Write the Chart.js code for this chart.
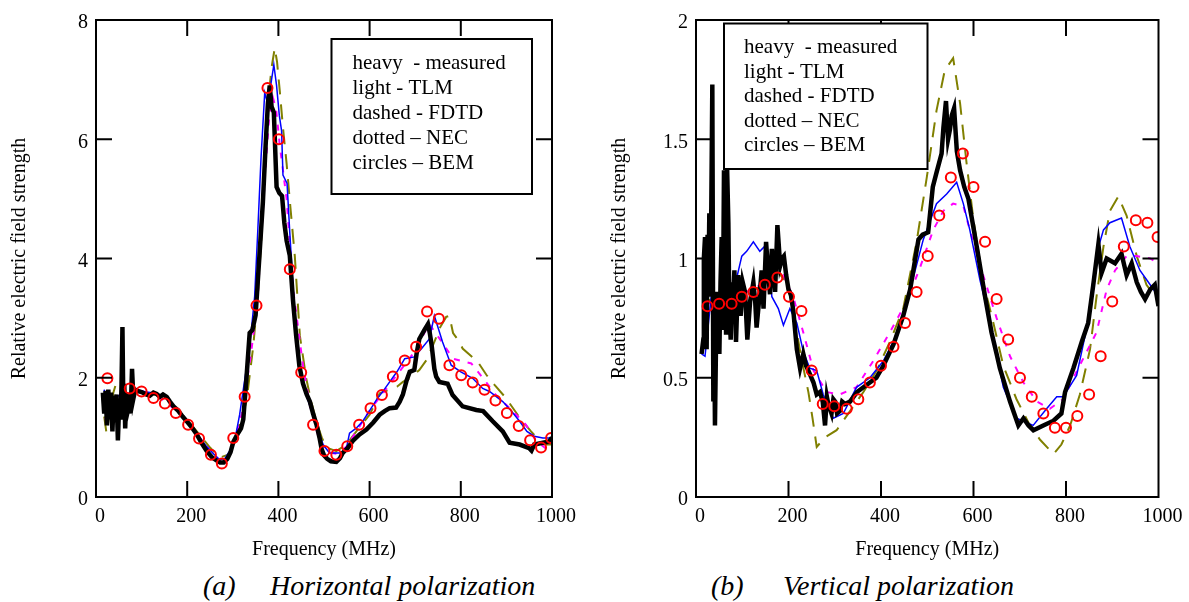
<!DOCTYPE html>
<html>
<head>
<meta charset="utf-8">
<title>Relative electric field strength</title>
<script src="https://cdn.jsdelivr.net/npm/chart.js@4.4.0/dist/chart.umd.min.js"></script>
<style>
  body { margin: 0; background: #fff; width: 1189px; height: 602px; overflow: hidden; position: relative;
         font-family: "Liberation Serif", "Times New Roman", serif; }
  .panel { position: absolute; top: 0; }
  .panel canvas { display: block; }
  .caption { position: absolute; top: 570px; font-style: italic; font-size: 28px; line-height: 32px; white-space: pre; color: #000; }
</style>
</head>
<body>
<div class="panel" style="left:0"><canvas id="chartH" width="580" height="565"></canvas></div>
<div class="panel" style="left:590px"><canvas id="chartV" width="599" height="565"></canvas></div>
<div class="caption" style="left:203px">(a)</div>
<div class="caption" style="left:270px">Horizontal polarization</div>
<div class="caption" style="left:711px">(b)</div>
<div class="caption" style="left:783px">Vertical polarization</div>
<script>
var legendLines = ["heavy  - measured", "light - TLM", "dashed - FDTD", "dotted \u2013 NEC", "circles \u2013 BEM"];
var freqTicks = [0, 200, 400, 600, 800, 1000];
var hTicks = [0, 2, 4, 6, 8];
var vTicks = [0, 0.5, 1, 1.5, 2];

// (a) horizontal polarization, [frequency MHz, field]
var hMeasured = [[15,1.75],[18,1.4],[21,1.78],[24,1.2],[27,1.8],[30,1.3],[33,1.75],[36,1.1],[39,1.7],[42,1.25],[45,1.72],[48,0.95],[51,1.6],[54,1.3],[56,1.9],[58,2.85],[60,1.5],[62,1.9],[64,1.15],[67,1.75],[70,1.45],[73,1.55],[76,1.4],[79,2.15],[82,1.65],[86,1.8],[90,1.78],[100,1.76],[110,1.72],[118,1.7],[126,1.75],[133,1.73],[140,1.68],[147,1.72],[155,1.68],[162,1.6],[170,1.52],[180,1.45],[190,1.35],[200,1.26],[210,1.17],[221,1.05],[232,0.9],[243,0.77],[255,0.66],[265,0.61],[272,0.58],[280,0.58],[288,0.64],[295,0.75],[301,0.92],[310,1.05],[318,1.15],[323,1.3],[330,2.0],[337,2.75],[343,2.8],[350,3.05],[358,4.0],[366,4.95],[372,5.9],[377,6.6],[381,6.9],[385,6.55],[390,6.45],[396,5.2],[402,5.1],[408,5.05],[413,4.6],[418,4.3],[425,4.05],[432,3.3],[439,2.7],[446,2.2],[454,1.9],[462,1.72],[469,1.6],[476,1.4],[484,1.2],[490,1.0],[495,0.8],[500,0.7],[507,0.64],[515,0.6],[527,0.59],[535,0.65],[541,0.74],[552,0.82],[563,0.94],[578,1.05],[593,1.13],[608,1.25],[622,1.38],[633,1.44],[644,1.49],[658,1.5],[666,1.6],[673,1.72],[681,1.95],[688,2.1],[698,2.13],[703,2.4],[709,2.65],[720,2.8],[728,2.9],[732,2.75],[736,2.55],[742,2.15],[746,2.02],[753,1.93],[771,1.9],[782,1.71],[804,1.52],[834,1.46],[849,1.44],[870,1.27],[892,1.1],[907,0.91],[929,0.88],[950,0.82],[955,0.78],[961,0.88],[994,0.93],[1000,1.0]];
var hTLM = [[18,1.8],[22,1.55],[30,1.62],[45,1.68],[60,1.74],[70,1.6],[75,1.52],[82,1.7],[90,1.8],[110,1.76],[133,1.74],[150,1.68],[162,1.6],[185,1.42],[206,1.21],[225,1.02],[242,0.85],[258,0.72],[271,0.63],[282,0.64],[293,0.77],[305,0.98],[315,1.38],[323,1.8],[330,2.16],[340,2.75],[348,3.37],[355,4.5],[362,5.7],[370,6.78],[377,6.59],[383,6.9],[390,7.25],[396,6.9],[402,6.4],[407,6.14],[410,5.4],[419,5.26],[425,4.43],[433,3.4],[443,2.27],[452,1.95],[461,1.71],[475,1.4],[488,1.1],[498,0.88],[512,0.74],[541,0.74],[550,0.85],[556,1.07],[570,1.15],[585,1.27],[600,1.45],[615,1.63],[630,1.78],[644,1.93],[660,2.1],[677,2.32],[698,2.35],[715,2.5],[731,2.65],[742,3.04],[760,2.6],[779,2.21],[800,2.1],[826,1.99],[848,1.82],[863,1.77],[892,1.6],[910,1.45],[929,1.27],[945,1.1],[961,1.02],[980,0.99],[994,0.99],[1000,1.0]];
var hFDTD = [[18,1.35],[23,1.07],[30,1.4],[38,1.75],[45,1.93],[52,1.9],[60,1.96],[66,1.7],[72,1.65],[82,1.82],[100,1.78],[133,1.71],[160,1.6],[185,1.42],[206,1.24],[230,1.02],[250,0.83],[271,0.66],[293,0.72],[308,1.05],[330,1.6],[345,2.54],[355,3.4],[363,4.37],[370,5.5],[377,6.59],[385,7.2],[392,7.53],[397,7.3],[403,6.81],[410,6.2],[418,5.59],[427,4.8],[436,4.04],[447,2.71],[461,1.99],[472,1.6],[483,1.27],[495,1.0],[505,0.83],[527,0.77],[549,0.88],[571,1.1],[600,1.38],[611,1.55],[622,1.74],[644,1.8],[660,1.85],[673,1.93],[690,2.0],[709,2.13],[725,2.3],[742,2.6],[755,2.85],[768,3.02],[775,3.04],[783,2.75],[797,2.6],[804,2.49],[837,2.27],[856,2.05],[874,1.88],[899,1.66],[929,1.33],[954,1.1],[980,0.88],[1000,0.88]];
var hNEC = [[20,1.3],[40,1.6],[60,1.78],[80,1.78],[100,1.78],[125,1.72],[150,1.62],[175,1.45],[200,1.25],[225,1.02],[250,0.78],[270,0.62],[285,0.62],[300,0.85],[320,1.4],[340,2.4],[355,3.4],[370,5.3],[380,6.4],[388,6.7],[395,6.5],[403,5.9],[418,5.0],[432,3.5],[454,2.2],[470,1.5],[490,0.95],[510,0.75],[530,0.72],[550,0.85],[575,1.15],[600,1.45],[625,1.7],[650,1.95],[675,2.2],[700,2.45],[720,2.75],[731,2.9],[753,2.66],[783,2.32],[823,2.24],[849,1.99],[877,1.71],[914,1.44],[943,1.21],[965,0.94],[994,0.77],[1000,0.8]];
var hBEM = [[25,1.99],[74,1.82],[100,1.77],[126,1.66],[151,1.57],[175,1.41],[202,1.21],[226,0.98],[252,0.71],[276,0.56],[301,0.99],[326,1.68],[352,3.21],[376,6.86],[401,6.0],[425,3.82],[450,2.09],[476,1.21],[501,0.77],[527,0.71],[551,0.85],[577,1.21],[602,1.49],[627,1.71],[651,2.02],[677,2.29],[702,2.52],[726,3.11],[752,2.99],[775,2.21],[801,2.04],[826,1.92],[852,1.8],[876,1.62],[901,1.41],[927,1.19],[952,0.95],[976,0.83],[998,0.99]];

// (b) vertical polarization
var vMeasured = [[12,0.6],[15.8,0.66],[17,1.0],[19.5,1.09],[21,0.7],[23,0.62],[25,1.1],[27,0.9],[28.8,1.19],[31.7,0.84],[33,1.2],[35.3,1.73],[37.5,0.4],[39,0.8],[41,0.3],[43,0.6],[44.7,0.86],[47,0.8],[50.5,0.6],[53,0.9],[55.5,1.09],[58,0.7],[60.5,1.37],[63,1.1],[65,0.69],[67,1.4],[70,1.15],[72,0.8],[75,0.66],[78,0.9],[80.7,0.84],[83,0.95],[86.5,0.65],[89,0.8],[91.5,0.93],[94,0.85],[96.5,0.76],[101,0.9],[106,0.86],[111,0.66],[117,0.82],[124,0.9],[128,0.82],[131,0.71],[138.5,0.87],[142,0.95],[146,0.79],[151.5,1.07],[156.5,0.93],[160,0.85],[164,1.04],[168,0.95],[171,0.86],[176,1.14],[182,0.97],[186,1.0],[190,1.01],[195,0.93],[200,0.87],[205,0.85],[210.5,0.78],[218,0.62],[225,0.54],[232,0.6],[238,0.55],[243,0.53],[254,0.48],[261,0.43],[268,0.44],[274,0.4],[279,0.3],[283,0.42],[286,0.39],[293,0.35],[297,0.41],[301,0.4],[305,0.35],[311,0.36],[316,0.4],[322,0.39],[333,0.4],[348,0.44],[362,0.46],[376,0.48],[390,0.5],[405,0.55],[427,0.64],[448,0.76],[463,0.87],[481,1.08],[490,1.1],[502,1.11],[512,1.3],[520,1.36],[531,1.44],[535,1.55],[540.5,1.66],[545,1.5],[549,1.54],[553,1.6],[558,1.63],[564,1.45],[571,1.37],[580,1.3],[589,1.25],[598,1.15],[607,1.05],[625,0.84],[639,0.69],[650,0.6],[657,0.54],[668,0.47],[679,0.4],[688,0.35],[697,0.3],[708,0.33],[719,0.3],[729.5,0.28],[751,0.3],[773,0.32],[790,0.35],[798,0.44],[816,0.54],[834,0.65],[848,0.73],[859,0.89],[870,1.06],[877,0.94],[888,1.0],[906,0.98],[920,1.02],[931,0.93],[942,0.98],[953,0.9],[962,0.86],[971,0.83],[982,0.87],[992,0.89],[1000,0.8]];
var vTLM = [[12,0.6],[19.5,0.59],[34,0.86],[59,0.78],[81,0.86],[99,1.01],[109.5,1.03],[124,1.07],[138,1.03],[153,1.06],[164,0.84],[178,0.79],[189,0.72],[203,0.79],[218,0.73],[232,0.61],[246,0.54],[261,0.53],[275,0.43],[297,0.33],[318.5,0.35],[347,0.46],[376,0.5],[405,0.57],[434,0.68],[463,0.87],[491.5,1.08],[520,1.23],[542,1.27],[563.6,1.32],[578,1.23],[592,1.12],[614,0.91],[636,0.73],[664.5,0.46],[693,0.33],[729,0.3],[758,0.37],[780,0.42],[794,0.42],[823,0.51],[845,0.71],[866,1.02],[881,1.12],[895,1.15],[920,1.17],[938,1.05],[960,0.95],[982,0.89],[1000,0.84]];
var vFDTD = [[19.5,0.82],[37.5,0.83],[52,0.84],[81,0.85],[117,0.86],[146,0.89],[167,0.93],[178,0.94],[192,0.91],[207,0.82],[218,0.69],[228,0.58],[243,0.44],[252,0.33],[261,0.21],[279,0.25],[304,0.28],[333,0.36],[362,0.44],[390.6,0.53],[419,0.65],[448,0.79],[477,1.07],[499,1.34],[520,1.62],[538,1.79],[556,1.84],[571,1.65],[585,1.4],[600,1.16],[621,0.9],[643,0.73],[664.5,0.55],[693,0.41],[722,0.3],[744,0.24],[773,0.18],[790,0.22],[809,0.3],[830,0.43],[852,0.62],[866,0.84],[881,1.05],[895,1.2],[913,1.26],[931,1.18],[953,1.01],[974,0.89],[1000,0.82]];
var vNEC = [[19.5,0.81],[59,0.82],[109.5,0.86],[160,0.91],[189,0.93],[210,0.84],[232,0.69],[254,0.53],[282.5,0.44],[311,0.43],[347,0.46],[383,0.57],[419,0.69],[455.5,0.82],[484,0.96],[513,1.12],[535,1.2],[556,1.23],[578,1.22],[592,1.12],[621,0.93],[650,0.75],[679,0.59],[708,0.48],[737,0.4],[765,0.37],[794,0.41],[816,0.5],[845,0.61],[866,0.69],[888,0.87],[906,0.95],[931,1.01],[953,1.01],[982,1.0],[1000,0.98]];
var vBEM = [[25,0.8],[50,0.81],[77,0.81],[99,0.84],[124,0.86],[149,0.89],[176,0.92],[201,0.84],[228,0.78],[250,0.53],[274,0.39],[299,0.38],[326,0.37],[351,0.41],[376,0.48],[400,0.55],[427,0.63],[452,0.73],[477,0.86],[501,1.01],[526,1.18],[551,1.34],[577,1.44],[600,1.3],[625,1.07],[650,0.83],[675,0.66],[700.5,0.5],[726,0.42],[751,0.35],[776,0.29],[800,0.29],[824.5,0.34],[850,0.43],[875,0.59],[900,0.82],[925,1.05],[951,1.16],[976,1.15],[998,1.09]];

Chart.defaults.font.family = "'Liberation Serif', 'Times New Roman', serif";
Chart.defaults.color = "#000";

function toPoints(pairs) {
    return pairs.map(function(p) { return { x: p[0], y: p[1] }; });
}

function makeDatasets(measured, tlm, fdtd, nec, bem) {
    // first dataset is drawn on top
    return [
        { label: "BEM", data: toPoints(bem), showLine: false, pointRadius: 5, pointStyle: "circle",
          pointBorderColor: "#ff0000", pointBackgroundColor: "rgba(0,0,0,0)", pointBorderWidth: 2 },
        { label: "measured", data: toPoints(measured), borderColor: "#000000", borderWidth: 4.5, pointRadius: 0, tension: 0 },
        { label: "TLM", data: toPoints(tlm), borderColor: "#0000ff", borderWidth: 1.5, pointRadius: 0, tension: 0 },
        { label: "NEC", data: toPoints(nec), borderColor: "#ff00ff", borderWidth: 2, borderDash: [6, 8], pointRadius: 0, tension: 0 },
        { label: "FDTD", data: toPoints(fdtd), borderColor: "#808000", borderWidth: 2, borderDash: [15, 10], pointRadius: 0, tension: 0 }
    ];
}

var framePlugin = {
    id: "frame",
    afterDatasetsDraw: function(chart, args, opts) {
        var ctx = chart.ctx, a = chart.chartArea;
        var xs = chart.scales.x, ys = chart.scales.y;
        ctx.save();
        ctx.strokeStyle = "#000";
        ctx.lineWidth = 2;
        ctx.strokeRect(a.left, a.top, a.right - a.left, a.bottom - a.top);
        ctx.beginPath();
        xs.ticks.forEach(function(t) {
            if (t.value <= xs.min || t.value >= xs.max) return;
            var px = xs.getPixelForValue(t.value);
            ctx.moveTo(px, a.bottom); ctx.lineTo(px, a.bottom - 16);
            ctx.moveTo(px, a.top); ctx.lineTo(px, a.top + 16);
        });
        ys.ticks.forEach(function(t) {
            if (t.value <= ys.min || t.value >= ys.max) return;
            var py = ys.getPixelForValue(t.value);
            ctx.moveTo(a.left, py); ctx.lineTo(a.left + 16, py);
            ctx.moveTo(a.right, py); ctx.lineTo(a.right - 16, py);
        });
        ctx.stroke();

        // text legend box
        ctx.fillStyle = "#fff";
        ctx.fillRect(opts.left, opts.top, opts.width, opts.height);
        ctx.strokeRect(opts.left, opts.top, opts.width, opts.height);
        ctx.fillStyle = "#000";
        ctx.font = "21px 'Liberation Serif', 'Times New Roman', serif";
        ctx.textBaseline = "middle";
        ctx.textAlign = "left";
        legendLines.forEach(function(s, i) {
            ctx.fillText(s, opts.textLeft, opts.firstLine + i * opts.lineGap);
        });
        ctx.restore();
    }
};

function makeChart(canvasId, datasets, yMax, yTickValues, yAxisWidth, yTitlePad, rightPad, box) {
    var tickFont = { size: 20 };
    var titleFont = { size: 20, lineHeight: 1.2 };
    return new Chart(document.getElementById(canvasId), {
        type: "line",
        data: { datasets: datasets },
        plugins: [framePlugin],
        options: {
            responsive: false,
            animation: false,
            devicePixelRatio: 1,
            layout: { padding: { top: 15, right: rightPad, left: 0, bottom: 0 } },
            scales: {
                x: {
                    type: "linear", min: 0, max: 1000,
                    afterBuildTicks: function(scale) {
                        scale.ticks = freqTicks.map(function(v) { return { value: v }; });
                    },
                    afterFit: function(scale) { scale.height = 68; },
                    grid: { display: false, drawTicks: false },
                    border: { display: false },
                    ticks: { font: tickFont, color: "#000", padding: 8, labelOffset: 4, maxRotation: 0, autoSkip: false,
                             callback: function(v) { return String(v); } },
                    title: { display: true, text: "Frequency (MHz)", font: titleFont, color: "#000",
                             padding: { top: 0, bottom: 3 } }
                },
                y: {
                    type: "linear", min: 0, max: yMax,
                    afterBuildTicks: function(scale) {
                        scale.ticks = yTickValues.map(function(v) { return { value: v }; });
                    },
                    afterFit: function(scale) { scale.width = yAxisWidth; },
                    grid: { display: false, drawTicks: false },
                    border: { display: false },
                    ticks: { font: tickFont, color: "#000", padding: 8, labelOffset: 3,
                             callback: function(v) { return String(v); } },
                    title: { display: true, text: "Relative electric field strength", font: titleFont, color: "#000",
                             padding: { top: yTitlePad, bottom: 0 } }
                }
            },
            plugins: {
                legend: { display: false },
                tooltip: { enabled: false },
                frame: box
            }
        }
    });
}

makeChart("chartH", makeDatasets(hMeasured, hTLM, hFDTD, hNEC, hBEM), 8, hTicks, 96, 8, 27,
    { left: 331.5, top: 39, width: 200.5, height: 155, textLeft: 352.5, firstLine: 63, lineGap: 25 });
makeChart("chartV", makeDatasets(vMeasured, vTLM, vFDTD, vNEC, vBEM), 2, vTicks, 106, 18, 30.5,
    { left: 134, top: 23.5, width: 203.5, height: 145.5, textLeft: 154, firstLine: 47.5, lineGap: 24.6 });
</script>
</body>
</html>
